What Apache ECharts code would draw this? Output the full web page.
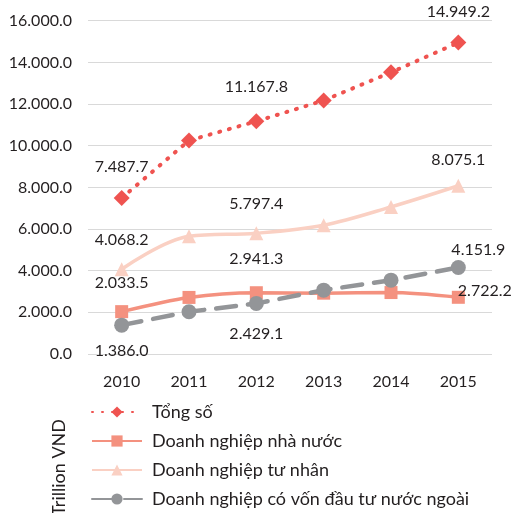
<!DOCTYPE html>
<html>
<head>
<meta charset="utf-8">
<script src="https://cdn.jsdelivr.net/npm/echarts@6/dist/echarts.min.js"></script>
<style>
  html, body { margin: 0; padding: 0; background: #fff; }
  #chart { width: 512px; height: 513px; }
</style>
</head>
<body>
<div id="chart"></div>
<script>
var years = ['2010', '2011', '2012', '2013', '2014', '2015'];
var seriesNames = ['Tổng số', 'Doanh nghiệp nhà nước', 'Doanh nghiệp tư nhân', 'Doanh nghiệp có vốn đầu tư nước ngoài'];
var tongSo = [7487.7, 10250, 11167.8, 12170, 13520, 14949.2];
var nhaNuoc = [2033.5, 2716, 2941.3, 2920, 2950, 2722.2];
var tuNhan = [4068.2, 5650, 5797.4, 6180, 7060, 8075.1];
var fdi = [1386.0, 2027, 2429.1, 3066, 3545, 4151.9];
var labelledYears = [0, 2, 5];

// number format like 14.949,2 -> shown as 14.949.2 in the picture
function fmt(v) {
    var s = v.toFixed(1).split('.');
    return s[0].replace(/\B(?=(\d{3})+(?!\d))/g, '.') + '.' + s[1];
}

var labelFont = { fontFamily: 'Lato', fontSize: 16, color: '#231f20' };

// label placement per series, per labelled point
var labelPos = [
    [{ position: 'top', distance: 15 }, { position: 'top', distance: 19 }, { position: 'top', distance: 15 }],
    [{ position: 'top', distance: 14 }, { position: 'top', distance: 19 }, { position: 'right', distance: 5, offset: [-12, -6] }],
    [{ position: 'top', distance: 14 }, { position: 'top', distance: 14 }, { position: 'top', distance: 11 }],
    [{ position: 'bottom', distance: 10 }, { position: 'bottom', distance: 15 }, { position: 'top', distance: 2, offset: [20, 0] }]
];

function buildData(values, si) {
    return values.map(function (v, i) {
        var k = labelledYears.indexOf(i);
        if (k < 0) return v;
        var p = labelPos[si][k];
        return {
            value: v,
            label: Object.assign({ show: true, formatter: fmt(v) }, labelFont, p)
        };
    });
}

var myChart = echarts.init(document.getElementById('chart'));

var option = {
    animation: false,
    textStyle: { fontFamily: 'Lato' },
    grid: {
        left: 88,
        right: 20,
        top: 20.7,
        bottom: 159
    },
    legend: {
        orient: 'vertical',
        left: 91,
        top: 403,
        height: 120,
        padding: 0,
        itemWidth: 50,
        itemHeight: 14,
        itemGap: 11,
        textStyle: { fontFamily: 'Lato', fontSize: 18, color: '#231f20', padding: [0, 0, 0, 5] },
        data: seriesNames
    },
    graphic: [{
        type: 'text',
        left: 50,
        top: 419,
        rotation: Math.PI / 2,
        style: { text: 'Trillion VND', font: '18px Lato', fill: '#231f20' }
    }],
    xAxis: {
        type: 'category',
        data: years,
        boundaryGap: true,
        axisLine: { show: false },
        axisTick: { show: false },
        axisLabel: { margin: 20, fontFamily: 'Lato', fontSize: 16, color: '#231f20' }
    },
    yAxis: {
        type: 'value',
        min: 0,
        max: 16000,
        interval: 2000,
        axisLine: { show: false },
        axisTick: { show: false },
        splitLine: { lineStyle: { color: '#d9d9d9', width: 1 } },
        axisLabel: {
            margin: 16,
            fontFamily: 'Lato',
            fontSize: 16,
            color: '#231f20',
            formatter: function (v) { return fmt(v); }
        }
    },
    series: [
        {
            name: seriesNames[0],
            type: 'line',
            data: buildData(tongSo, 0),
            symbol: 'diamond',
            symbolSize: 16,
            color: '#ef5350',
            lineStyle: { width: 4, type: [1, 9], cap: 'round', color: '#ef5350' },
            itemStyle: { color: '#ef5350' },
            z: 5
        },
        {
            name: seriesNames[1],
            type: 'line',
            smooth: 0.3,
            data: buildData(nhaNuoc, 1),
            symbol: 'rect',
            symbolSize: 13,
            color: '#f4917f',
            lineStyle: { width: 3.5, color: '#f4917f' },
            itemStyle: { color: '#f4917f' },
            z: 3
        },
        {
            name: seriesNames[2],
            type: 'line',
            smooth: 0.35,
            data: buildData(tuNhan, 2),
            symbol: 'triangle',
            symbolSize: 14,
            color: '#fad0c3',
            lineStyle: { width: 3.5, color: '#fad0c3' },
            itemStyle: { color: '#fad0c3' },
            z: 2
        },
        {
            name: seriesNames[3],
            type: 'line',
            data: buildData(fdi, 3),
            symbol: 'circle',
            symbolSize: 15,
            color: '#939598',
            lineStyle: { width: 4.5, type: [20, 12], cap: 'round', color: '#939598' },
            itemStyle: { color: '#939598' },
            z: 4
        }
    ]
};

myChart.setOption(option);
</script>
</body>
</html>
